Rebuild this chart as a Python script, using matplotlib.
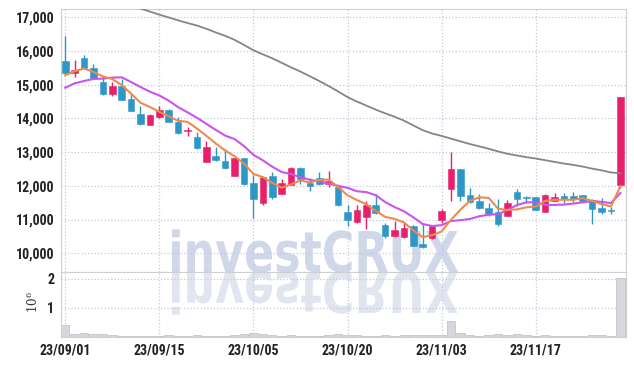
import numpy as np
import pandas as pd
import matplotlib.pyplot as plt
from matplotlib.textpath import TextPath
from matplotlib.patches import PathPatch
from matplotlib.font_manager import FontProperties
from matplotlib.transforms import Affine2D

plt.rcParams['font.family'] = ['Roboto Condensed', 'Roboto', 'DejaVu Sans']
plt.rcParams['font.weight'] = 'bold'
plt.rcParams['mathtext.fontset'] = 'dejavuserif'

# daily candles, 2023-09-01 .. 2023-11-30 (trading days)
opens = [15690, 15350, 15800, 15500, 15080, 14730, 14960, 14580, 14120, 13810,
         14035, 14250, 13890, 13620, 13460, 12710, 12890, 12740, 12290, 12820,
         12095, 11500, 12305, 11770, 12035, 12540, 12095, 12245, 12045, 11975,
         11220, 10920, 11080, 11445, 10840, 10520, 10470, 10820, 10285, 10440,
         11000, 11895, 12490, 11715, 11550, 11330, 11230, 11100, 11830, 11680,
         11660, 11230, 11560, 11690, 11690, 11715, 11580, 11340, 11280, 12015]
highs = [16450, 15720, 15880, 15600, 15260, 15080, 15180, 14730, 14360, 14140,
         14380, 14270, 14040, 13740, 13610, 13320, 13140, 13090, 12830, 12830,
         12330, 12290, 12395, 12195, 12550, 12550, 12225, 12395, 12445, 11990,
         11445, 11420, 11550, 11745, 10900, 10950, 10900, 10830, 10880, 10830,
         11320, 12990, 12500, 11945, 11765, 11480, 11620, 11580, 11915, 11690,
         11670, 11765, 11795, 11795, 11830, 11730, 11600, 11630, 11370, 14640]
lows = [15330, 15230, 15480, 15180, 14680, 14660, 14540, 14210, 13800, 13790,
        14020, 13880, 13530, 13490, 13100, 12700, 12740, 12490, 12280, 12010,
        11030, 11420, 11600, 11760, 12030, 12045, 11845, 12030, 11975, 11410,
        10820, 10910, 10720, 11170, 10455, 10490, 10460, 10210, 10155, 10430,
        10900, 11550, 11550, 11500, 11300, 11100, 10800, 11090, 11400, 11500,
        11270, 11220, 11550, 11500, 11520, 11520, 10880, 11150, 11150, 11945]
closes = [15350, 15450, 15500, 15200, 14730, 14960, 14560, 14230, 13840, 14100,
          14250, 13890, 13570, 13670, 13120, 13160, 12760, 12520, 12820, 12045,
          11620, 12275, 11680, 12095, 12540, 12195, 11995, 12045, 12145, 11420,
          11000, 11270, 11420, 11180, 10520, 10700, 10750, 10220, 10185, 10820,
          11250, 12490, 11695, 11520, 11330, 11170, 10880, 11500, 11620, 11635,
          11280, 11715, 11680, 11620, 11620, 11535, 11300, 11220, 11260, 14630]
volumes = [420000, 120000, 140000, 100000, 90000, 60000, 50000, 50000, 50000, 40000,
           50000, 60000, 50000, 40000, 60000, 50000, 40000, 50000, 60000, 100000,
           140000, 120000, 60000, 50000, 60000, 50000, 40000, 50000, 60000, 90000,
           80000, 70000, 50000, 50000, 60000, 50000, 70000, 70000, 70000, 60000,
           80000, 550000, 150000, 60000, 50000, 70000, 90000, 60000, 100000, 80000,
           50000, 60000, 40000, 40000, 40000, 50000, 70000, 70000, 40000, 2050000]

# moving average values before the window is full (earlier data not shown)
ma5_head = [15280, 15400, 15480, 15380]
ma10_head = [14910, 15040, 15110, 15170, 15180, 15210, 15220, 15080, 14930]
ma60 = [None] * 7 + [17355, 17260, 17170, 17078, 16995, 16910, 16830, 16755, 16660, 16550,
                     16450, 16330, 16180, 16024, 15900, 15785, 15650, 15515, 15390, 15250,
                     15110, 14960, 14800, 14633, 14500, 14380, 14260, 14150, 14050, 13934,
                     13790, 13650, 13550, 13480, 13400, 13320, 13240, 13170, 13100, 13020,
                     12950, 12900, 12850, 12810, 12760, 12710, 12660, 12620, 12570, 12510,
                     12460, 12395, 12375]

tick_pos = [0, 10, 20, 30, 40, 50]
tick_labels = ['23/09/01', '23/09/15', '23/10/05', '23/10/20', '23/11/03', '23/11/17']

RED = '#e8206b'
BLUE = '#2f96c8'

x = np.arange(len(closes))
o = np.array(opens, dtype=float)
c = np.array(closes, dtype=float)
colors = np.where(c >= o, RED, BLUE)

close_s = pd.Series(c)
ma5 = close_s.rolling(5).mean()
ma5.iloc[:4] = ma5_head
ma10 = close_s.rolling(10).mean()
ma10.iloc[:9] = ma10_head
ma60 = np.array([np.nan if v is None else v for v in ma60], dtype=float)

fig = plt.figure(figsize=(6.34, 3.66), dpi=100)
ax = fig.add_axes([0.0962, 0.2568, 0.8912, 0.7186])
axv = fig.add_axes([0.0962, 0.0792, 0.8912, 0.1776], sharex=ax)


def watermark(axis, flip, color):
    fp = FontProperties(family='DejaVu Sans', weight='bold')
    tp = TextPath((0, 0), 'investCRUX', size=1, prop=fp)
    ext = tp.get_extents()
    sx = 286 / ext.width
    sy = 41 / 0.73
    tr = Affine2D().translate(-ext.x0, 0).scale(sx, -sy if flip else sy).translate(172, 366 - 272)
    p = PathPatch(tp, transform=tr, facecolor=color, edgecolor='none', zorder=0.5)
    axis.add_artist(p)


watermark(ax, False, '#d0d7e8')
watermark(axv, True, '#e1e5ef')

# candles
ax.vlines(x, lows, highs, colors=colors, linewidth=1, zorder=3)
body_h = np.maximum(np.abs(c - o), 20)
ax.bar(x, body_h, bottom=np.minimum(o, c), width=0.7, color=colors,
       edgecolor=colors, linewidth=0.4, zorder=4)

ax.plot(x, ma60, color='#858585', linewidth=1.3, zorder=5)
ax.plot(x, ma10, color='#c955ec', linewidth=1.5, zorder=5)
ax.plot(x, ma5, color='#ee8a4c', linewidth=1.5, zorder=6)

axv.bar(x, volumes, width=0.9, color='#d6d6dd', edgecolor='#c4c4cd', linewidth=0.6, zorder=2)

ax.set_xlim(-0.45, 59.6)
ax.set_ylim(9442, 17246)
axv.set_ylim(0, 2.24e6)

yt = list(range(10000, 17001, 1000))
ax.set_yticks(yt)
ax.set_yticklabels([f'{v:,}' for v in yt])
axv.set_xticks(tick_pos)
axv.set_xticklabels(tick_labels)
axv.set_yticks([1e6, 2e6])
axv.set_yticklabels(['1', '2'])
axv.set_ylabel(r'$\mathregular{10^6}$', fontsize=8.5, color='#333333',
               fontweight='normal', family='DejaVu Serif')
axv.yaxis.set_label_coords(-0.036, 0.54)

for a in (ax, axv):
    a.grid(True, linestyle=':', color='#c6c9dc', linewidth=0.9, zorder=0)
    a.set_axisbelow(True)
    a.tick_params(axis='both', length=0, labelsize=10, labelcolor='#222222', pad=5)
    for lbl in a.get_xticklabels() + a.get_yticklabels():
        lbl.set_fontweight('bold')
    for s in a.spines.values():
        s.set_color('#cfcfcf')
        s.set_linewidth(0.8)
ax.tick_params(axis='x', labelbottom=False)

fig.savefig('out.png', dpi=100)
